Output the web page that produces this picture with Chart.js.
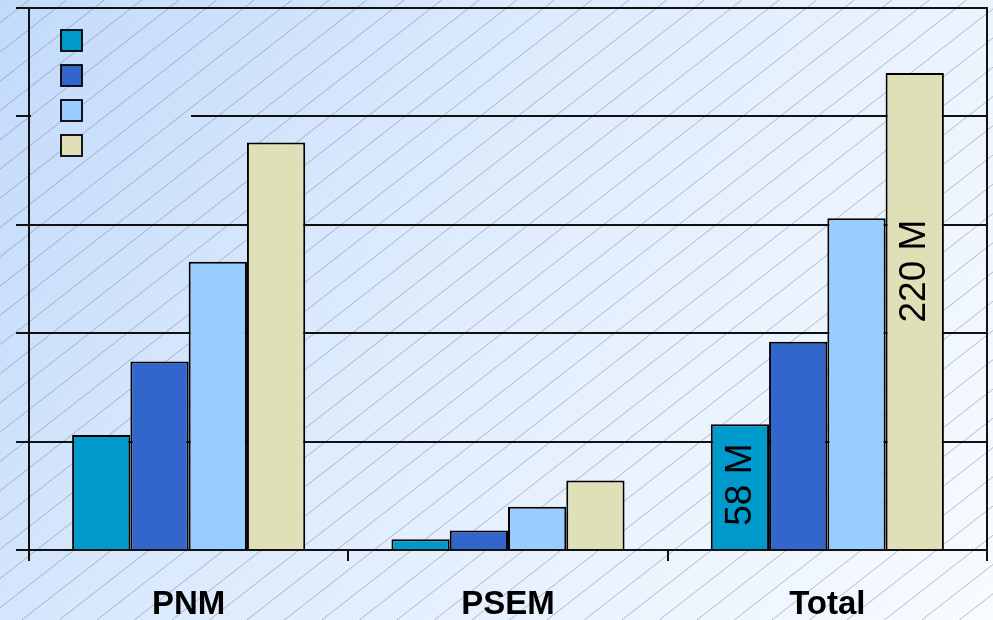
<!DOCTYPE html>
<html>
<head>
<meta charset="utf-8">
<script src="https://cdn.jsdelivr.net/npm/chart.js@4.4.1/dist/chart.umd.min.js"></script>
<style>
  html, body { margin: 0; padding: 0; background: #ffffff; }
  #wrap { width: 993px; height: 620px; position: relative; }
</style>
</head>
<body>
<div id="wrap"><canvas id="c" width="993" height="620"></canvas></div>
<script>
// Data
const categories = ['PNM', 'PSEM', 'Total'];
const seriesA = [53, 5, 58];
const seriesB = [87, 9, 96];
const seriesC = [133, 20, 153];
const seriesD = [188, 32, 220];
const yTicks = [0, 50, 100, 150, 200, 250];
const valueUnit = 'M';
// bars that carry a value label: [series index, category index]
const labelledBars = [[0, 2], [3, 2]];

// Styling
const FONT = '"Liberation Sans", Arial, Helvetica, sans-serif';
const INK = '#111111';
const SERIES_COLORS = ['#0099cc', '#3366cc', '#99ccff', '#e0e0b8'];
const LABEL_LIFT = [0.516, 0.584];      // label centre as a fraction of bar height
const LEGEND_BOX = { x: 31, y: 12, w: 160, h: 155 };

function paintBackdrop(ctx, w, h) {
  const g = ctx.createLinearGradient(0, 0, w, h);
  g.addColorStop(0, '#c2dafa');
  g.addColorStop(0.45, '#dfecfd');
  g.addColorStop(1, '#f8fbff');
  ctx.fillStyle = g;
  ctx.fillRect(0, 0, w, h);
  // diagonal hatching
  const slope = 0.78, step = 37.5, phase = 29.2;
  const run = h / slope;
  ctx.strokeStyle = 'rgba(118,128,152,0.5)';
  ctx.lineWidth = 1;
  ctx.beginPath();
  for (let x0 = phase - step; x0 < w + run + step; x0 += step) {
    ctx.moveTo(x0, 0);
    ctx.lineTo(x0 - run, h);
  }
  ctx.stroke();
}

const decorations = {
  id: 'decorations',
  beforeDraw(chart) {
    const ctx = chart.ctx;
    ctx.save();
    paintBackdrop(ctx, chart.width, chart.height);
    ctx.restore();
  },
  beforeDatasetsDraw(chart) {
    const ctx = chart.ctx;
    const a = chart.chartArea;
    // legend panel hides the grid behind it
    ctx.save();
    ctx.beginPath();
    ctx.rect(LEGEND_BOX.x, LEGEND_BOX.y, LEGEND_BOX.w, LEGEND_BOX.h);
    ctx.clip();
    paintBackdrop(ctx, chart.width, chart.height);
    ctx.restore();
    // right frame edge
    ctx.save();
    ctx.strokeStyle = INK;
    ctx.lineWidth = 2;
    ctx.beginPath();
    ctx.moveTo(a.right, a.top - 1);
    ctx.lineTo(a.right, a.bottom);
    ctx.stroke();
    ctx.restore();
  },
  afterDatasetsDraw(chart) {
    const ctx = chart.ctx;
    // legend swatches (no captions)
    ctx.save();
    chart.data.datasets.forEach((ds, i) => {
      const x = 61, y = 30 + i * 35, s = 21;
      ctx.fillStyle = ds.backgroundColor;
      ctx.fillRect(x, y, s, s);
      ctx.strokeStyle = '#000';
      ctx.lineWidth = 1.8;
      ctx.strokeRect(x, y, s, s);
    });
    ctx.restore();
    // rotated value labels
    const size = 37;
    const capH = size * 0.716;
    ctx.save();
    ctx.font = size + 'px ' + FONT;
    ctx.fillStyle = '#000';
    ctx.textAlign = 'center';
    ctx.textBaseline = 'alphabetic';
    labelledBars.forEach(([s, c], k) => {
      const bar = chart.getDatasetMeta(s).data[c];
      const p = bar.getProps(['x', 'y', 'base'], true);
      const value = chart.data.datasets[s].data[c];
      const cy = p.base - (p.base - p.y) * LABEL_LIFT[k];
      ctx.save();
      ctx.translate(p.x - 2.5 + capH / 2, cy);
      ctx.rotate(-Math.PI / 2);
      ctx.fillText(value + ' ' + valueUnit, 0, 0);
      ctx.restore();
    });
    ctx.restore();
  }
};

const seriesValues = [seriesA, seriesB, seriesC, seriesD];

new Chart(document.getElementById('c'), {
  type: 'bar',
  data: {
    labels: categories,
    datasets: seriesValues.map((vals, i) => ({
      label: '',
      data: vals,
      backgroundColor: SERIES_COLORS[i],
      borderColor: '#000',
      borderWidth: 2,
      barPercentage: 1,
      categoryPercentage: 0.73
    }))
  },
  options: {
    responsive: false,
    animation: false,
    devicePixelRatio: 1,
    events: [],
    layout: { padding: { left: 16, right: 6, top: 8, bottom: 0 } },
    plugins: { legend: { display: false }, tooltip: { enabled: false } },
    scales: {
      x: {
        offset: true,
        afterFit(scale) { scale.height = 70; },
        grid: {
          offset: true, drawOnChartArea: false, drawTicks: true,
          tickLength: 11, tickWidth: 2, tickColor: INK, lineWidth: 2, color: INK
        },
        border: { display: true, color: INK, width: 2 },
        ticks: {
          color: '#000', padding: 27, autoSkip: false, maxRotation: 0,
          font: { family: FONT, size: 33, weight: 'bold', lineHeight: 1 }
        }
      },
      y: {
        min: yTicks[0],
        max: yTicks[yTicks.length - 1],
        ticks: { display: false, stepSize: yTicks[1] - yTicks[0] },
        grid: { color: INK, lineWidth: 2, drawTicks: true, tickLength: 13, tickColor: INK },
        border: { display: true, color: INK, width: 2 }
      }
    }
  },
  plugins: [decorations]
});
</script>
</body>
</html>
